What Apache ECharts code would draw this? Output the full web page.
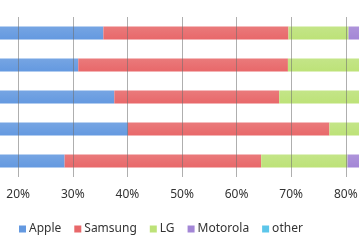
<!DOCTYPE html>
<html>
<head>
<meta charset="utf-8">
<script src="https://cdn.jsdelivr.net/npm/echarts@6/dist/echarts.min.js"></script>
<style>
  html, body { margin: 0; padding: 0; background: #fff; overflow: hidden; }
  /* the reference is a crop of a wider chart: the canvas hangs over both sides */
  #wrap { position: relative; width: 359px; height: 250px; overflow: hidden; }
  #chart { position: absolute; left: -91px; top: 0; width: 546px; height: 250px; }
</style>
</head>
<body>
<div id="wrap"><div id="chart"></div></div>
<script>
// bars from top to bottom (category names are cropped out of the picture)
const categories = ['Group 1', 'Group 2', 'Group 3', 'Group 4', 'Group 5']
const apple = [35.6, 31.0, 37.6, 40.1, 28.5]
const samsung = [33.9, 38.4, 30.2, 36.9, 36.0]
const lg = [11.0, 14.0, 15.0, 11.0, 15.8]
const motorola = [6.0, 5.0, 5.0, 4.0, 7.0]
const other = [13.5, 11.6, 12.2, 8.0, 12.7]
const names = ['Apple', 'Samsung', 'LG', 'Motorola', 'other']
const colors = ['#6499e0', '#e8686a', '#bde278', '#a386d6', '#5cc6ea']

const chart = echarts.init(document.getElementById('chart'))

// lighter on top, like the old spreadsheet bars
const fill = (c) => new echarts.graphic.LinearGradient(0, 0, 0, 1, [
  { offset: 0, color: echarts.color.lift(c, 0.12) },
  { offset: 1, color: c }
])

const values = [apple, samsung, lg, motorola, other]
const series = names.map((name, i) => ({
  name: name,
  type: 'bar',
  stack: 'share',
  barWidth: 13,
  data: values[i],
  itemStyle: { color: fill(colors[i]) }
}))

chart.setOption({
  animation: false,
  textStyle: { fontFamily: 'Noto Sans' },
  legend: {
    data: names.map((n, i) => ({ name: n, itemStyle: { color: colors[i] } })),
    top: 218,
    left: 105,
    icon: 'rect',
    itemWidth: 7,
    itemHeight: 7,
    itemGap: 13,
    textStyle: { fontSize: 12, color: '#333', padding: [0, 0, 0, -2] }
  },
  grid: { left: 0, right: 0, top: 17, bottom: 73, containLabel: false, outerBoundsMode: 'none' },
  xAxis: {
    type: 'value',
    min: 0,
    max: 100,
    interval: 10,
    z: 5,
    axisLine: { show: false },
    axisTick: { show: false },
    axisLabel: { formatter: '{value}%', fontSize: 12, color: '#333', margin: 12 },
    splitLine: { lineStyle: { color: 'rgba(110,110,110,0.55)', width: 1 } }
  },
  yAxis: {
    type: 'category',
    data: categories,
    inverse: true,
    axisLine: { show: false },
    axisTick: { show: false },
    axisLabel: { show: false }
  },
  series: series
})
</script>
</body>
</html>
